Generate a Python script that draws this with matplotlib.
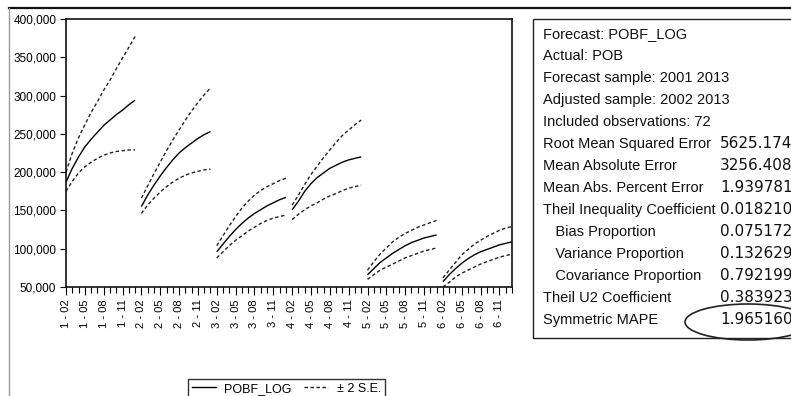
import matplotlib
matplotlib.use("Agg")
import matplotlib.pyplot as plt
from matplotlib.patches import Rectangle, Ellipse
from matplotlib.lines import Line2D
import numpy as np

plt.rcParams['font.family'] = ['Liberation Sans', 'DejaVu Sans']

# ---------------- data ----------------
groups = [1, 2, 3, 4, 5, 6]
years = ["02", "03", "04", "05", "06", "07", "08", "09", "10", "11", "12", "13"]

forecast = [
    187000, 205000, 220000, 233000, 243000, 252000, 261000, 268000, 275000, 281000, 288000, 294000,
    155000, 170000, 183000, 195000, 206000, 216000, 225000, 232000, 238000, 244000, 249000, 253000,
    96000, 106000, 116000, 125000, 133000, 140000, 146000, 151000, 156000, 160000, 164000, 167000,
    151000, 162000, 175000, 185000, 193000, 199000, 205000, 209000, 213000, 216000, 218000, 220000,
    66000, 74000, 82000, 88000, 94000, 99000, 104000, 108000, 111000, 114000, 116000, 118000,
    57000, 66000, 74000, 81000, 87000, 92000, 96000, 99000, 102000, 105000, 107000, 109000,
]
upper = [
    200000, 225000, 245000, 262000, 278000, 292000, 307000, 320000, 335000, 349000, 363000, 377000,
    166000, 182000, 198000, 213000, 228000, 242000, 255000, 268000, 280000, 291000, 301000, 310000,
    104000, 117000, 130000, 142000, 153000, 162000, 170000, 176000, 181000, 185000, 189000, 192000,
    157000, 170000, 184000, 197000, 208000, 219000, 229000, 239000, 248000, 255000, 262000, 268000,
    72000, 83000, 93000, 101000, 109000, 115000, 120000, 124000, 128000, 131000, 134000, 137000,
    62000, 72000, 82000, 92000, 99000, 106000, 111000, 116000, 120000, 124000, 127000, 129000,
]
lower = [
    175000, 188000, 199000, 207000, 213000, 218000, 222000, 225000, 227000, 228000, 229000, 229000,
    146000, 157000, 166000, 174000, 181000, 187000, 192000, 196000, 199000, 201000, 203000, 204000,
    88000, 96000, 104000, 111000, 117000, 123000, 128000, 133000, 137000, 140000, 142000, 144000,
    138000, 145000, 151000, 156000, 160000, 165000, 169000, 172000, 176000, 179000, 181000, 183000,
    60000, 66000, 72000, 76000, 80000, 84000, 88000, 91000, 94000, 97000, 99000, 101000,
    50000, 56000, 63000, 68000, 72000, 76000, 80000, 83000, 86000, 89000, 91000, 93000,
]

y_ticks = [50000, 100000, 150000, 200000, 250000, 300000, 350000, 400000]

stat_labels = [
    "Forecast: POBF_LOG",
    "Actual: POB",
    "Forecast sample: 2001 2013",
    "Adjusted sample: 2002 2013",
    "Included observations: 72",
    "Root Mean Squared Error",
    "Mean Absolute Error",
    "Mean Abs. Percent Error",
    "Theil Inequality Coefficient",
    "   Bias Proportion",
    "   Variance Proportion",
    "   Covariance Proportion",
    "Theil U2 Coefficient",
    "Symmetric MAPE",
]
stat_values = ["", "", "", "", "", "5625.174", "3256.408", "1.939781", "0.018210",
               "0.075172", "0.132629", "0.792199", "0.383923", "1.965160"]

# ---------------- figure ----------------
W, H = 791, 396
fig = plt.figure(figsize=(W / 100, H / 100), dpi=100)


def fx(px):
    return px / W


def fy(py):
    return 1 - py / H


ax = fig.add_axes([fx(66), fy(287), fx(512) - fx(66), fy(19) - fy(287)])

n_per = len(years)
x_all = np.arange(len(groups) * n_per)
fc = np.array(forecast, dtype=float)
up = np.array(upper, dtype=float)
lo = np.array(lower, dtype=float)

dash = (0, (2.5, 1.8))
for g in range(len(groups)):
    sl = slice(g * n_per, (g + 1) * n_per)
    ax.plot(x_all[sl], fc[sl], color="black", lw=1.0, solid_capstyle="butt")
    ax.plot(x_all[sl], up[sl], color="#222222", lw=1.0, linestyle=dash)
    ax.plot(x_all[sl], lo[sl], color="#222222", lw=1.0, linestyle=dash)

ax.set_xlim(0, len(x_all) - 1)
ax.set_ylim(50000, 400000)
ax.set_yticks(y_ticks)
ax.set_yticklabels([f"{v:,}" for v in y_ticks], fontsize=8.5)

major_pos = []
major_lab = []
for g_i, g in enumerate(groups):
    for k in range(0, n_per, 3):
        major_pos.append(g_i * n_per + k)
        major_lab.append(f"{g} - {years[k]}")
ax.set_xticks(major_pos)
ax.set_xticklabels(major_lab, rotation=90, fontsize=8)
ax.set_xticks(x_all, minor=True)
ax.tick_params(axis="x", which="major", length=6, width=0.8, pad=3, direction="out")
ax.tick_params(axis="x", which="minor", length=4, width=0.8, direction="out")
ax.tick_params(axis="y", which="major", length=4, width=0.8, pad=3, direction="out")
for s in ax.spines.values():
    s.set_linewidth(1.2)
    s.set_color("#111111")

# legend
h1 = Line2D([], [], color="black", lw=1.0)
h2 = Line2D([], [], color="#222222", lw=1.0, linestyle=dash)
leg = fig.legend([h1, h2], ["POBF_LOG", "\u00b1 2 S.E."], loc="upper left",
                 bbox_to_anchor=(fx(188), fy(379)), ncol=2, fontsize=9,
                 frameon=True, fancybox=False, edgecolor="black",
                 handlelength=1.9, columnspacing=1.0, handletextpad=0.7,
                 borderpad=0.3, borderaxespad=0)
leg.get_frame().set_linewidth(1.0)

# outer frame lines of the screenshot
fig.add_artist(Line2D([fx(9), fx(791)], [fy(8), fy(8)], color="#111111", lw=1.6))
fig.add_artist(Line2D([fx(9), fx(9)], [fy(8), fy(396)], color="#999999", lw=1.0))

# statistics box
fig.add_artist(Rectangle((fx(533), fy(338)), fx(300), fy(19) - fy(338),
                         fill=False, edgecolor="#222222", lw=1.0))
row0 = 34
dy = 22.0
for i, (lab, val) in enumerate(zip(stat_labels, stat_values)):
    yy = row0 + i * dy
    fig.text(fx(543), fy(yy), lab, fontsize=10.5, va="center", ha="left", color="#111111")
    if val:
        fig.text(fx(720), fy(yy), val, fontsize=11, va="center", ha="left",
                 color="#111111", family="DejaVu Sans")

fig.add_artist(Ellipse((fx(748), fy(322)), fx(126), fy(304) - fy(340),
                       fill=False, edgecolor="#222222", lw=1.2))

fig.savefig("out.png", dpi=100)
